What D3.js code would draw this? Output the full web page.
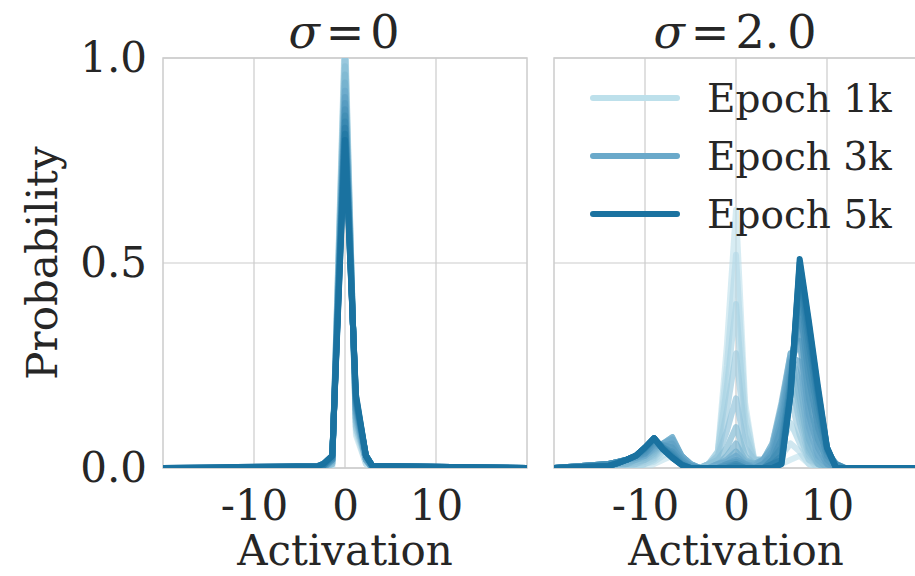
<!DOCTYPE html>
<html>
<head>
<meta charset="utf-8">
<script src="https://cdn.jsdelivr.net/npm/d3@7"></script>
<style>
  body { margin: 0; background: #fff; }
  text { font-family: "DejaVu Serif", serif; fill: #262626; }
</style>
</head>
<body>
<svg width="915" height="576"></svg>
<script>
// epoch snapshots (every 250 epochs), light -> dark
const epochs = [1000, 1250, 1500, 1750, 2000, 2250, 2500, 2750, 3000, 3250, 3500, 3750, 4000, 4250, 4500, 4750, 5000];
const legendEpochs = ["Epoch 1k", "Epoch 3k", "Epoch 5k"];
const legendIndex = [0, 8, 16];
const xTicks = [-10, 0, 10];
const yTicks = [0, 0.5, 1];

// sigma = 0 panel: bin positions and probability per epoch
const sig0X = [-20, -3, -2.4, -1.4, 0, 1.2, 2.3, 3, 20];
const s0_1000 = [0, 0, 0, 0, 1.08, 0.08, 0.01, 0, 0];
const s0_1250 = [0, 0, 0, 0.005, 1.06, 0.09, 0.01, 0, 0];
const s0_1500 = [0, 0, 0, 0.01, 1.04, 0.1, 0.02, 0, 0];
const s0_1750 = [0, 0, 0, 0.01, 1.02, 0.1, 0.02, 0, 0];
const s0_2000 = [0, 0, 0, 0.01, 1.0, 0.11, 0.02, 0, 0];
const s0_2250 = [0, 0, 0, 0.01, 0.98, 0.12, 0.02, 0, 0];
const s0_2500 = [0, 0, 0, 0.015, 0.96, 0.12, 0.02, 0, 0];
const s0_2750 = [0, 0, 0, 0.015, 0.94, 0.13, 0.02, 0, 0];
const s0_3000 = [0, 0, 0, 0.02, 0.92, 0.14, 0.02, 0, 0];
const s0_3250 = [0, 0, 0, 0.02, 0.905, 0.14, 0.025, 0, 0];
const s0_3500 = [0, 0, 0, 0.02, 0.89, 0.15, 0.025, 0, 0];
const s0_3750 = [0, 0, 0.005, 0.02, 0.875, 0.155, 0.03, 0.005, 0];
const s0_4000 = [0, 0, 0.005, 0.025, 0.86, 0.16, 0.03, 0.005, 0];
const s0_4250 = [0, 0, 0.005, 0.025, 0.845, 0.165, 0.03, 0.005, 0];
const s0_4500 = [0, 0, 0.005, 0.03, 0.83, 0.17, 0.03, 0.005, 0];
const s0_4750 = [0, 0.005, 0.01, 0.03, 0.815, 0.175, 0.03, 0.005, 0];
const s0_5000 = [0, 0.005, 0.01, 0.03, 0.8, 0.18, 0.03, 0.005, 0];

// sigma = 2.0 panel
// x:           -20 | -14 -13 -12 -11 -10 -9 -8 -7 -6 -5 | -4 -3 -2 -1 0 1 2 3 | 4 5 6 7 8 9 10 11 12 | 20
const sig2X = [-20, -14, -13, -12, -11, -10, -9, -8, -7, -6, -5, -4, -3, -2, -1, 0, 1, 2, 3, 4, 5, 6, 7, 8, 9, 10, 11, 12, 20];
const s2_1000 = [0, 0, 0, 0, 0, 0, 0.01, 0.02, 0.03, 0.01, 0, 0, 0, 0.04, 0.3, 0.63, 0.16, 0.02, 0, 0, 0.01, 0.02, 0.03, 0.01, 0, 0, 0, 0, 0];
const s2_1250 = [0, 0, 0, 0, 0, 0.01, 0.015, 0.03, 0.04, 0.015, 0, 0, 0.01, 0.04, 0.25, 0.52, 0.14, 0.02, 0.02, 0.01, 0.03, 0.06, 0.04, 0.01, 0, 0, 0, 0, 0];
const s2_1500 = [0, 0, 0, 0, 0, 0.01, 0.02, 0.04, 0.05, 0.02, 0, 0, 0.01, 0.04, 0.2, 0.4, 0.11, 0.02, 0.02, 0.03, 0.06, 0.11, 0.06, 0.02, 0, 0, 0, 0, 0];
const s2_1750 = [0, 0, 0, 0, 0.01, 0.015, 0.025, 0.05, 0.06, 0.025, 0.005, 0, 0.01, 0.03, 0.14, 0.28, 0.08, 0.02, 0.02, 0.04, 0.1, 0.17, 0.08, 0.02, 0.01, 0, 0, 0, 0];
const s2_2000 = [0, 0, 0, 0.01, 0.01, 0.02, 0.03, 0.055, 0.065, 0.03, 0.01, 0, 0.01, 0.03, 0.09, 0.17, 0.05, 0.02, 0.02, 0.05, 0.13, 0.22, 0.11, 0.03, 0.01, 0, 0, 0, 0];
const s2_2250 = [0, 0, 0.01, 0.01, 0.015, 0.02, 0.035, 0.06, 0.07, 0.03, 0.01, 0, 0.01, 0.02, 0.05, 0.1, 0.03, 0.01, 0.02, 0.06, 0.15, 0.26, 0.14, 0.04, 0.01, 0, 0, 0, 0];
const s2_2500 = [0, 0, 0.01, 0.01, 0.02, 0.025, 0.04, 0.06, 0.075, 0.03, 0.01, 0, 0, 0.01, 0.03, 0.06, 0.02, 0.01, 0.02, 0.06, 0.16, 0.28, 0.17, 0.05, 0.01, 0, 0, 0, 0];
const s2_2750 = [0, 0.01, 0.01, 0.015, 0.02, 0.03, 0.045, 0.06, 0.075, 0.03, 0.01, 0, 0, 0.01, 0.02, 0.04, 0.015, 0.01, 0.02, 0.05, 0.15, 0.28, 0.21, 0.07, 0.02, 0, 0, 0, 0];
const s2_3000 = [0, 0.01, 0.015, 0.02, 0.025, 0.03, 0.05, 0.06, 0.07, 0.03, 0.01, 0, 0, 0.01, 0.015, 0.03, 0.01, 0.005, 0.02, 0.05, 0.14, 0.27, 0.26, 0.1, 0.03, 0.01, 0, 0, 0];
const s2_3250 = [0, 0.01, 0.015, 0.02, 0.025, 0.035, 0.055, 0.055, 0.06, 0.025, 0.005, 0, 0, 0, 0.01, 0.02, 0.01, 0, 0.01, 0.04, 0.12, 0.26, 0.31, 0.13, 0.05, 0.01, 0, 0, 0];
const s2_3500 = [0, 0.01, 0.015, 0.02, 0.03, 0.035, 0.06, 0.055, 0.05, 0.02, 0.005, 0, 0, 0, 0.01, 0.015, 0.005, 0, 0.01, 0.03, 0.1, 0.24, 0.36, 0.17, 0.07, 0.02, 0, 0, 0];
const s2_3750 = [0, 0.01, 0.015, 0.02, 0.03, 0.04, 0.065, 0.05, 0.04, 0.015, 0, 0, 0, 0, 0.005, 0.01, 0, 0, 0, 0.02, 0.07, 0.22, 0.4, 0.22, 0.1, 0.03, 0.01, 0, 0];
const s2_4000 = [0, 0.01, 0.015, 0.02, 0.03, 0.045, 0.07, 0.05, 0.035, 0.01, 0, 0, 0, 0, 0, 0.01, 0, 0, 0, 0.02, 0.05, 0.21, 0.44, 0.26, 0.13, 0.04, 0.01, 0, 0];
const s2_4250 = [0, 0.005, 0.012, 0.02, 0.03, 0.048, 0.072, 0.048, 0.03, 0.01, 0, 0, 0, 0, 0, 0.005, 0, 0, 0, 0.01, 0.03, 0.2, 0.46, 0.3, 0.16, 0.045, 0, 0, 0];
const s2_4500 = [0, 0.005, 0.012, 0.02, 0.03, 0.05, 0.073, 0.047, 0.027, 0.008, 0, 0, 0, 0, 0, 0, 0, 0, 0, 0.01, 0.02, 0.19, 0.48, 0.33, 0.18, 0.05, 0, 0, 0];
const s2_4750 = [0, 0.005, 0.012, 0.02, 0.03, 0.05, 0.073, 0.045, 0.025, 0.008, 0, 0, 0, 0, 0, 0, 0, 0, 0, 0, 0.01, 0.18, 0.5, 0.35, 0.19, 0.05, 0, 0, 0];
const s2_5000 = [0, 0.005, 0.012, 0.02, 0.03, 0.05, 0.073, 0.045, 0.025, 0.008, 0, 0, 0, 0, 0, 0, 0, 0, 0, 0, 0.01, 0.18, 0.51, 0.36, 0.2, 0.05, 0, 0, 0];

const panels = [
  { title: "0", xs: sig0X,
    series: [s0_1000, s0_1250, s0_1500, s0_1750, s0_2000, s0_2250, s0_2500, s0_2750, s0_3000,
             s0_3250, s0_3500, s0_3750, s0_4000, s0_4250, s0_4500, s0_4750, s0_5000] },
  { title: "2.0", xs: sig2X,
    series: [s2_1000, s2_1250, s2_1500, s2_1750, s2_2000, s2_2250, s2_2500, s2_2750, s2_3000,
             s2_3250, s2_3500, s2_3750, s2_4000, s2_4250, s2_4500, s2_4750, s2_5000] }
];

const svg = d3.select("svg");
const plotTop = 58, plotBottom = 468, panelW = 364;
const panelLeft = [163, 554];
const grid = "#cccccc";
const last = epochs.length - 1;

const color = d3.scaleLinear()
    .domain([0, last / 2, last])
    .range(["#bde0eb", "#6aa9ca", "#1a72a0"]);
const opacity = i => 0.6 + 0.4 * i / last;

const y = d3.scaleLinear().domain([0, 1]).range([plotBottom, plotTop]);

panels.forEach((p, pi) => {
  const x0 = panelLeft[pi];
  const x = d3.scaleLinear().domain([-20, 20]).range([x0, x0 + panelW]);
  const g = svg.append("g");

  g.append("clipPath").attr("id", "clip" + pi)
    .append("rect")
    .attr("x", x0).attr("y", plotTop)
    .attr("width", panelW).attr("height", plotBottom - plotTop);

  // grid
  g.selectAll(".gx").data(xTicks).enter().append("line")
    .attr("x1", d => x(d)).attr("x2", d => x(d))
    .attr("y1", plotTop).attr("y2", plotBottom)
    .attr("stroke", grid).attr("stroke-width", 1.2);
  g.selectAll(".gy").data(yTicks).enter().append("line")
    .attr("x1", x0).attr("x2", x0 + panelW)
    .attr("y1", d => y(d)).attr("y2", d => y(d))
    .attr("stroke", grid).attr("stroke-width", 1.2);

  g.append("rect")
    .attr("x", x0).attr("y", plotTop)
    .attr("width", panelW).attr("height", plotBottom - plotTop)
    .attr("fill", "none").attr("stroke", grid).attr("stroke-width", 1.5);

  const line = d3.line()
    .x((d, i) => x(p.xs[i]))
    .y(d => y(d));

  g.append("g").attr("clip-path", `url(#clip${pi})`)
    .selectAll("path").data(p.series).enter().append("path")
    .attr("d", line)
    .attr("fill", "none")
    .attr("stroke", (d, i) => color(i))
    .attr("stroke-opacity", (d, i) => opacity(i))
    .attr("stroke-width", 6)
    .attr("stroke-linejoin", "round");

  // x axis
  const ax = g.append("g")
    .attr("transform", `translate(0,${plotBottom})`)
    .call(d3.axisBottom(x).tickValues(xTicks).tickSize(0).tickFormat(d => String(d)));
  ax.select(".domain").remove();
  ax.selectAll("text")
    .attr("y", 52).attr("dy", null)
    .style("font-size", "42px").style("font-family", "DejaVu Serif").attr("fill", "#262626");

  g.append("text")
    .attr("x", x0 + panelW / 2).attr("y", 565)
    .attr("text-anchor", "middle")
    .style("font-size", "42px")
    .text("Activation");

  // title
  const t = g.append("text")
    .attr("x", x0 + panelW / 2 - 1).attr("y", 48)
    .attr("text-anchor", "middle")
    .style("font-size", "46px");
  t.append("tspan").attr("font-style", "italic").text("σ");
  t.append("tspan").attr("dx", 6).text("=");
  if (p.title === "2.0") {
    t.append("tspan").attr("dx", 6).text("2.");
    t.append("tspan").attr("dx", 8).text("0");
  } else {
    t.append("tspan").attr("dx", 6).text(p.title);
  }

  if (pi === 0) {
    const ay = g.append("g")
      .attr("transform", `translate(${x0},0)`)
      .call(d3.axisLeft(y).tickValues(yTicks).tickSize(0).tickPadding(16).tickFormat(d3.format(".1f")));
    ay.select(".domain").remove();
    ay.selectAll("text")
      .style("font-size", "42px").style("font-family", "DejaVu Serif").attr("fill", "#262626");

    g.append("text")
      .attr("transform", `translate(57,${(plotTop + plotBottom) / 2}) rotate(-90)`)
      .attr("text-anchor", "middle")
      .style("font-size", "42px")
      .text("Probability");
  } else {
    // legend
    const lg = g.append("g").attr("transform", `translate(${x0 + 39},98)`);
    legendEpochs.forEach((label, i) => {
      lg.append("line")
        .attr("x1", 0).attr("x2", 84)
        .attr("y1", i * 58).attr("y2", i * 58)
        .attr("stroke", color(legendIndex[i]))
        .attr("stroke-width", 6)
        .attr("stroke-linecap", "round");
      lg.append("text")
        .attr("x", 114).attr("y", i * 58 + 14)
        .style("font-size", "39px")
        .text(label);
    });
  }
});
</script>
</body>
</html>
